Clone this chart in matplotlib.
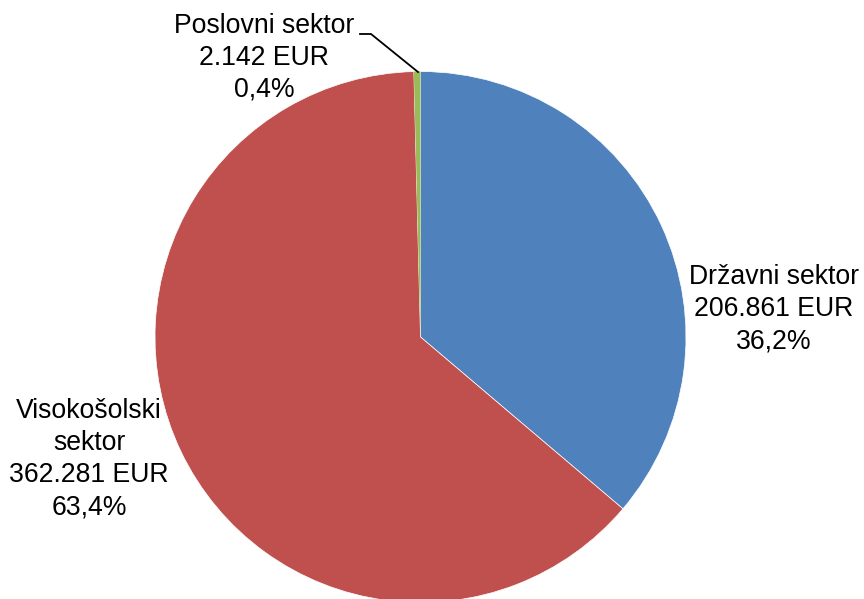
import matplotlib.pyplot as plt

# data
sectors = ['Državni sektor', 'Visokošolski\nsektor', 'Poslovni sektor']
amounts = ['206.861 EUR', '362.281 EUR', '2.142 EUR']
shares = [36.2, 63.4, 0.4]
colors = ['#4F81BD', '#C0504D', '#9BBB59']

plt.rcParams['font.family'] = ['Liberation Sans', 'DejaVu Sans']

fig = plt.figure(figsize=(8.64, 5.99), dpi=100)
ax = fig.add_axes([0, 0, 1, 1])

wedges, _ = ax.pie(shares, colors=colors, startangle=90, counterclock=False,
                   center=(420.5, 262), radius=265.5, frame=True,
                   wedgeprops=dict(edgecolor='white', linewidth=0.5))
wedges[2].set_linewidth(0)
ax.set_xlim(0, 864)
ax.set_ylim(0, 599)
ax.set_aspect('equal')
ax.axis('off')

def lab(i):
    return '%s\n%s\n%s%%' % (sectors[i], amounts[i], ('%.1f' % shares[i]).replace('.', ','))

fs = 19.2
ls = 1.3
ax.text(774, 599 - 309, lab(0), ha='center', va='center', fontsize=fs, linespacing=ls)
ax.text(89, 599 - 459, lab(1), ha='center', va='center', fontsize=fs, linespacing=ls)
ax.text(264, 599 - 58, lab(2), ha='center', va='center', fontsize=fs, linespacing=ls)

# leader line for the small slice
ax.plot([360, 371, 418], [599 - 34, 599 - 34, 599 - 72], color='black', lw=1.3)

fig.savefig('out.png', dpi=100)
